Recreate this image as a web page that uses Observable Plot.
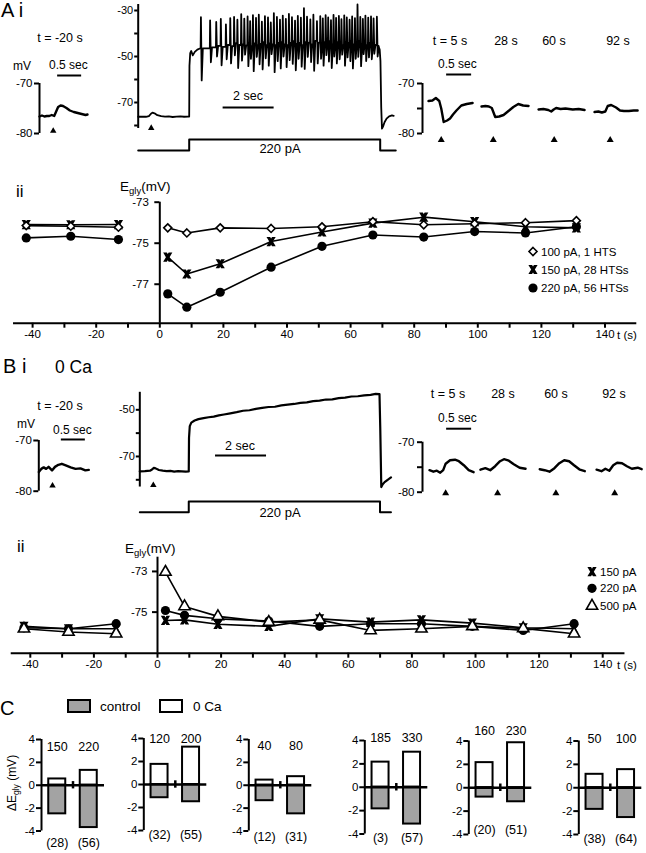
<!DOCTYPE html>
<html><head><meta charset="utf-8">
<script src="https://cdn.jsdelivr.net/npm/d3@7"></script>
<script src="https://cdn.jsdelivr.net/npm/@observablehq/plot@0.6"></script>
<style>
body{margin:0;background:#fff}
#fig{position:relative;width:646px;height:853px;overflow:hidden;background:#fff}
#fig svg{position:absolute;left:0;top:0}
</style></head><body><div id="fig"></div>
<script>
// ---------------- DATA ----------------
// A i : left inset (t = -20 s), time in s, voltage in mV
const aLT = [0, 0.05, 0.1, 0.15, 0.2, 0.25, 0.3, 0.34, 0.38, 0.43, 0.48, 0.55, 0.62, 0.7, 0.78, 0.86, 0.94, 0.98];
const aLV = [-76.6, -76.4, -76.6, -76.5, -76.5, -76.3, -76.5, -75.6, -74.7, -74.4, -74.5, -74.9, -75.4, -75.7, -75.9, -76.1, -76.3, -76.2];
const aLStim = [0.28];
// A i : middle trace (220 pA step)
const aMPreT = [0, 0.15, 0.3, 0.42, 0.5, 0.56, 0.64, 0.75, 0.9, 1.05, 1.2, 1.35, 1.5, 1.65, 1.8, 1.95, 2.0, 2.01, 2.04, 2.08, 2.14, 2.22, 2.32, 2.42];
const aMPreV = [-76.2, -76.1, -76.2, -75.9, -74.9, -74.4, -74.7, -75.5, -75.9, -76.1, -76.0, -76.3, -76.1, -76.0, -76.2, -76.1, -76.1, -54, -48.5, -47.6, -49.5, -48, -47, -46.5];
const aSpT = [2.46, 2.82, 3.06, 3.24, 3.44, 3.61, 3.76, 3.89, 4.04, 4.16, 4.29, 4.39, 4.50, 4.62, 4.73, 4.85, 4.97, 5.09, 5.20, 5.32, 5.44, 5.56, 5.67, 5.79, 5.91, 6.03, 6.15, 6.26, 6.38, 6.50, 6.62, 6.75, 6.87, 7.01, 7.14, 7.24, 7.35, 7.45, 7.56, 7.66, 7.76, 7.87, 7.97, 8.08, 8.18, 8.29, 8.39, 8.50, 8.60, 8.71, 8.81, 8.91, 9.02, 9.13, 9.23, 9.36];
const aSpPk = [-32.9, -34.3, -35.0, -33.6, -36.0, -33.3, -32.8, -34.0, -31.6, -33.5, -32.6, -34.6, -32.0, -33.2, -31.8, -34.8, -32.5, -33.0, -35.2, -31.2, -32.8, -34.0, -32.2, -33.6, -31.5, -32.9, -34.4, -32.3, -33.1, -29.0, -32.7, -33.9, -31.8, -34.6, -32.5, -33.4, -32.0, -33.0, -34.2, -31.9, -33.2, -32.4, -33.8, -32.1, -33.0, -34.0, -32.6, -33.3, -27.4, -32.8, -33.6, -32.2, -33.1, -32.6, -33.4, -32.7];
const aSpTr = [-60.4, -52.5, -50.0, -53.8, -51.2, -53.0, -49.5, -55.0, -51.8, -49.2, -54.2, -51.0, -56.4, -50.2, -53.4, -55.6, -50.8, -54.0, -49.0, -56.8, -52.0, -55.2, -50.0, -54.6, -51.6, -53.2, -56.0, -51.0, -54.4, -55.4, -50.2, -52.4, -56.2, -53.0, -51.0, -54.0, -49.4, -52.2, -55.0, -50.0, -53.0, -51.2, -49.2, -54.0, -50.4, -52.0, -55.2, -51.0, -50.2, -54.2, -49.0, -52.0, -50.4, -51.2, -48.8, -50.0];
const aSpRec = [-46.5, -46.0, -45.4, -45.8, -45.0, -45.5, -44.2, -45.0, -44.6, -45.2, -44.0, -45.4, -44.2, -45.0, -44.4, -43.6, -45.0, -44.2, -44.6, -45.0, -44.0, -43.6, -44.6, -45.0, -44.0, -43.2, -44.4, -44.0, -45.0, -43.6, -44.0, -44.6, -43.2, -44.0, -45.0, -43.6, -44.0, -43.2, -44.6, -44.0, -43.6, -44.0, -45.0, -43.6, -44.0, -43.2, -44.6, -44.0, -43.2, -44.6, -44.0, -45.0, -44.0, -44.6, -45.0, -45.6];
const aMPostT = [9.42, 9.47, 9.50, 9.53, 9.56, 9.6, 9.66, 9.74, 9.84, 9.95, 10.02];
const aMPostV = [-45.4, -47, -52, -72, -81.4, -80.5, -78.6, -77.0, -76.0, -75.6, -75.8];
const aMStim = [0.51];
const aStepT = [0, 2.0, 2.0, 9.49, 9.49, 10.1];
const aStepI = [0, 0, 220, 220, 0, 0];
// A i : right insets (t = 5, 28, 60, 92 s)
const aR1T = [0, 0.08, 0.15, 0.22, 0.26, 0.31, 0.38, 0.44, 0.5, 0.57, 0.67, 0.78, 0.9];
const aR1V = [-73.5, -73.4, -72.9, -73.5, -75.0, -77.7, -77.4, -77.0, -76.2, -75.4, -74.4, -74.1, -73.9];
const aR2T = [0, 0.08, 0.15, 0.21, 0.28, 0.36, 0.45, 0.55, 0.65, 0.75, 0.85, 0.96];
const aR2V = [-74.6, -74.5, -74.6, -74.9, -76.7, -76.6, -76.3, -75.5, -74.7, -74.1, -74.4, -74.5];
const aR3T = [0, 0.1, 0.2, 0.26, 0.31, 0.36, 0.45, 0.55, 0.7, 0.82, 0.94];
const aR3V = [-75.2, -75.1, -75.3, -75.6, -75.2, -74.9, -75.1, -75.0, -75.2, -75.1, -75.3];
const aR4T = [0, 0.08, 0.15, 0.22, 0.27, 0.34, 0.44, 0.52, 0.6, 0.7, 0.8, 0.88];
const aR4V = [-75.7, -75.6, -75.8, -75.6, -74.5, -74.3, -74.8, -75.4, -75.5, -75.5, -75.4, -75.4];
const aRStim = [0.26, 0.24, 0.32, 0.32];
const insetLabels = ["t = 5 s", "28 s", "60 s", "92 s"];

// A ii
const tPre = [-42, -28, -13];
const tPost = [2.5, 8.5, 19, 35, 51, 67, 83, 99, 115, 131];
const a100Pre = [-74.14, -74.17, -74.22];
const a100Post = [-74.25, -74.5, -74.25, -74.28, -74.2, -73.95, -74.1, -74.05, -74.0, -73.9];
const a150Pre = [-74.09, -74.1, -74.09];
const a150Post = [-75.68, -76.5, -76.0, -74.92, -74.45, -74.02, -73.73, -73.95, -74.2, -74.25];
const a220Pre = [-74.74, -74.66, -74.82];
const a220Post = [-77.47, -78.12, -77.39, -76.17, -75.15, -74.6, -74.7, -74.43, -74.5, -74.2];
const aiiLegend = ["100 pA, 1 HTS", "150 pA, 28 HTSs", "220 pA, 56 HTSs"];
const xTicks = [-40, -30, -20, -10, 0, 10, 20, 30, 40, 50, 60, 70, 80, 90, 100, 110, 120, 130, 140];
const aiiYTicks = [-73, -75, -77];

// B i
const bLT = [0, 0.05, 0.1, 0.15, 0.2, 0.27, 0.33, 0.4, 0.47, 0.55, 0.65, 0.75, 0.85, 0.95, 1.02];
const bLV = [-76.2, -75.6, -75.3, -75.6, -75.2, -75.9, -75.2, -74.8, -74.6, -74.9, -75.3, -75.6, -75.5, -75.9, -75.8];
const bLStim = [0.28];
const bMidT = [0, 0.2, 0.4, 0.48, 0.55, 0.62, 0.75, 0.9, 1.05, 1.2, 1.35, 1.5, 1.65, 1.8, 1.92, 1.93, 1.96, 2.02, 2.15, 2.3, 2.5, 2.7, 2.9, 3.1, 3.3, 3.55, 3.8, 4.05, 4.3, 4.55, 4.8, 5.05, 5.3, 5.55, 5.8, 6.05, 6.3, 6.55, 6.8, 7.05, 7.3, 7.55, 7.8, 8.05, 8.3, 8.55, 8.8, 9.05, 9.25, 9.4, 9.43, 9.47, 9.52, 9.6, 9.72, 9.85];
const bMidV = [-76.4, -76.3, -76.1, -75.6, -74.9, -75.1, -75.8, -76.1, -76.3, -76.2, -76.5, -76.3, -76.4, -76.5, -76.4, -62, -57, -55.5, -54.6, -54.0, -53.6, -53.2, -52.9, -52.4, -52.0, -51.5, -51.0, -50.4, -50.2, -49.6, -49.2, -48.8, -48.7, -48.1, -47.8, -47.5, -47.0, -46.8, -46.3, -46.1, -45.6, -45.5, -45.0, -44.8, -44.3, -44.2, -43.8, -43.6, -43.2, -43.3, -58, -83.1, -82.0, -81.0, -80.0, -79.0];
const bMStim = [0.53];
const bStepT = [0, 1.92, 1.92, 9.42, 9.42, 9.85];
const bStepI = [0, 0, 220, 220, 0, 0];
const bR1T = [0, 0.08, 0.15, 0.22, 0.28, 0.33, 0.42, 0.52, 0.6, 0.7, 0.8, 0.9];
const bR1V = [-75.6, -75.9, -75.7, -76.1, -75.6, -74.3, -73.6, -73.5, -73.8, -74.6, -75.6, -76.0];
const bR2T = [0, 0.1, 0.2, 0.3, 0.4, 0.48, 0.58, 0.68, 0.8, 0.92];
const bR2V = [-75.5, -75.2, -75.6, -74.8, -73.8, -73.4, -73.7, -74.4, -75.1, -75.3];
const bR3T = [0, 0.1, 0.2, 0.3, 0.4, 0.5, 0.6, 0.7, 0.82, 0.92];
const bR3V = [-75.4, -75.6, -75.9, -75.2, -74.2, -73.6, -73.8, -74.6, -75.5, -75.8];
const bR4T = [0, 0.1, 0.18, 0.26, 0.34, 0.42, 0.52, 0.62, 0.72, 0.84, 0.92];
const bR4V = [-75.5, -75.8, -75.3, -75.7, -74.6, -74.1, -74.2, -74.8, -75.3, -75.1, -75.4];
const bRStim = [0.33, 0.35, 0.33, 0.37];

// B ii
const b150Pre = [-75.7, -75.82, -75.82];
const b150Post = [-75.41, -75.38, -75.6, -75.7, -75.33, -75.49, -75.38, -75.54, -75.77, -75.82];
const b220Pre = [-75.77, -75.82, -75.57];
const b220Post = [-74.92, -75.16, -75.33, -75.44, -75.7, -75.57, -75.57, -75.7, -75.9, -75.57];
const b500Pre = [-75.82, -75.98, -76.06];
const b500Post = [-73.03, -74.72, -75.21, -75.49, -75.38, -75.9, -75.82, -75.7, -75.8, -76.06];
const biiLegend = ["150 pA", "220 pA", "500 pA"];
const biiYTicks = [-73, -75];

// C
const cAmpLow = [150, 120, 40, 185, 160, 50];
const cAmpHigh = [220, 200, 80, 330, 230, 100];
const cCountLow = [28, 32, 12, 3, 20, 38];
const cCountHigh = [56, 55, 31, 57, 51, 64];
const cCtrlLow = [-2.5, -1.15, -1.35, -1.85, -0.8, -1.85];
const cCtrlHigh = [-3.7, -1.5, -2.5, -3.15, -1.2, -2.55];
const cZeroLow = [0.55, 1.75, 0.45, 2.15, 2.15, 1.15];
const cZeroHigh = [1.3, 3.25, 0.75, 3.0, 3.85, 1.55];
const cTicks = [-4, -2, 0, 2, 4];

// ---------------- RENDER ----------------
const W = 646, H = 853;
const FONT = '"Liberation Sans", Arial, Helvetica, sans-serif';
const GRAY = "#a3a3a3";
const fig = document.getElementById("fig");

function layer(o) {
  const svg = Plot.plot({
    width: W, height: H,
    marginLeft: o.x0, marginRight: W - o.x1, marginTop: o.yt, marginBottom: H - o.yb,
    x: {domain: o.xd, axis: null, label: null},
    y: {domain: o.yd, axis: null, label: null},
    style: {background: "transparent", fontFamily: FONT, fontSize: "11.5px", overflow: "visible", color: "black"},
    marks: o.marks
  });
  svg.style.position = "absolute"; svg.style.left = "0px"; svg.style.top = "0px";
  fig.appendChild(svg);
}
const pts = (T, V, off = 0) => T.map((t, i) => ({t: t + off, v: V[i]}));
const fmtOnly = list => d => list.includes(d) ? String(d) : "";
const traceOpts = w => ({x: "t", y: "v", stroke: "black", strokeWidth: w, strokeLinejoin: "round", strokeLinecap: "round"});
const yAxis = (ticks, size, pad, fmt, fs = 11.5) => Plot.axisY({ticks, tickSize: size, tickPadding: pad, strokeWidth: 2, fontSize: fs, tickFormat: fmt, label: null});

// custom "star" symbol: bold filled X with flat (horizontal) ends
const XSTAR = {draw(ctx, size) {
  const r = Math.sqrt(size / Math.PI), w = 0.8 * r;
  const k = (2 * r - w) / (2 * r), c = r - (r - w) / k, d = w / 2;
  ctx.moveTo(-r, -r); ctx.lineTo(-r + w, -r); ctx.lineTo(0, -c); ctx.lineTo(r - w, -r); ctx.lineTo(r, -r);
  ctx.lineTo(d, 0); ctx.lineTo(r, r); ctx.lineTo(r - w, r); ctx.lineTo(0, c); ctx.lineTo(-r + w, r);
  ctx.lineTo(-r, r); ctx.lineTo(-d, 0); ctx.closePath();
}};

// ---- A i left inset
layer({x0: 39, x1: 88, xd: [0, 1], yb: 133, yt: 83, yd: [-80, -70], marks: [
  Plot.ruleX([0], {y1: -80, y2: -70, strokeWidth: 2}),
  yAxis([-80, -70], 5, 2, d => String(d)),
  Plot.line(pts(aLT, aLV), traceOpts(2.4)),
  Plot.dot(aLStim, {x: d => d, y: -79.5, symbol: "triangle", r: 2.4, fill: "black"}),
  Plot.ruleY([-68.4], {x1: 0.37, x2: 0.86, strokeWidth: 2})
]});

// ---- A i middle trace
const aMid = pts(aMPreT, aMPreV);
aSpT.forEach((t, i) => {
  const prev = i === 0 ? aMPreV[aMPreV.length - 1] : aSpRec[i - 1];
  aMid.push({t: t - 0.012, v: prev}, {t, v: aSpPk[i]}, {t: t + 0.03, v: aSpTr[i]}, {t: t + 0.075, v: aSpRec[i]});
});
aMid.push(...pts(aMPostT, aMPostV));
layer({x0: 137.7, x1: 137.7 + 10.3 * 25.5, xd: [0, 10.3], yb: 125, yt: 10, yd: [-80, -30], marks: [
  Plot.ruleX([0], {y1: -81.3, y2: -27.4, strokeWidth: 2}),
  yAxis([-80, -70, -60, -50, -40, -30], 3.5, 1.5, fmtOnly([-30, -50, -70]), 11),
  Plot.line(aMid, traceOpts(1.8)),
  Plot.dot(aMStim, {x: d => d, y: -81.1, symbol: "triangle", r: 2.4, fill: "black"}),
  Plot.ruleY([-72.2], {x1: 3.33, x2: 5.33, strokeWidth: 2})
]});
layer({x0: 137.7, x1: 137.7 + 10.3 * 25.5, xd: [0, 10.3], yb: 150, yt: 139, yd: [0, 220], marks: [
  Plot.line(pts(aStepT, aStepI), traceOpts(2))
]});

// ---- right insets helper
function rightInset(segs, offs, stim, yb, yt, arrowV, barV) {
  const marks = [
    Plot.ruleX([-0.1224], {y1: -80, y2: -70, strokeWidth: 2}),
    yAxis([-80, -75, -70], 5, 3, fmtOnly([-70, -80])),
    Plot.ruleY([barV], {x1: 0.37, x2: 0.88, strokeWidth: 2}),
    Plot.dot(stim.map((s, k) => s + offs[k]), {x: d => d, y: arrowV, symbol: "triangle", r: 2.6, fill: "black"})
  ];
  segs.forEach(([T, V], k) => marks.push(Plot.line(pts(T, V, offs[k]), traceOpts(2.4))));
  layer({x0: 422, x1: 646, xd: [-0.1224, 4.449], yb, yt, yd: [-80, -70], marks});
}
rightInset([[aR1T, aR1V], [aR2T, aR2V], [aR3T, aR3V], [aR4T, aR4V]], [0, 1.082, 2.245, 3.388], aRStim, 133, 83, -81.3, -68.2);

// ---- A ii / B ii helper
function egPlot(o) {
  const rows = [];
  o.series.forEach(s => {
    tPre.forEach((t, i) => rows.push({t, v: s.pre[i], g: s.name + "pre", name: s.name}));
    tPost.forEach((t, i) => rows.push({t, v: s.post[i], g: s.name + "post", name: s.name}));
  });
  const marks = [
    Plot.ruleY([o.yd[0]], {strokeWidth: 2}),
    Plot.axisX({ticks: xTicks, tickFormat: d => d % 20 === 0 ? String(d) : "", tickSize: 5, tickPadding: 2, strokeWidth: 2, fontSize: 11.5, label: null}),
    Plot.line(rows, {x: "t", y: "v", z: "g", stroke: "black", strokeWidth: 1.6})
  ];
  o.series.forEach(s => marks.push(Plot.dot(rows.filter(r => r.name === s.name), {x: "t", y: "v", ...s.dot})));
  layer({x0: o.zero + o.xd[0] * 3.18, x1: o.zero + o.xd[1] * 3.18, xd: o.xd, yb: o.yb, yt: o.yt, yd: o.yd, marks});
  layer({x0: o.zero, x1: o.zero + 1, xd: [0, 1], yb: o.yb, yt: o.yt, yd: o.yd, marks: [
    Plot.ruleX([0], {y1: o.yd[0], y2: o.axisTop, strokeWidth: 2}),
    yAxis(o.yTicks, 5, o.pad, d => String(d))
  ]});
}
const DIAMOND = {symbol: "diamond2", r: 3.6, fill: "white", stroke: "black", strokeWidth: 1.6};
const STAR = {symbol: XSTAR, r: 4.6, fill: "black", stroke: "none"};
const CIRCLE = {symbol: "circle", r: 4.6, fill: "black"};
const TRI = {symbol: "triangle", r: 4.2, fill: "white", stroke: "black", strokeWidth: 1.6};
egPlot({zero: 159.3, xd: [-46, 150], yb: 322.7, yt: 201.7, yd: [-78.9, -73], axisTop: -73, yTicks: aiiYTicks, pad: 6,
  series: [
    {name: "c", pre: a220Pre, post: a220Post, dot: CIRCLE},
    {name: "s", pre: a150Pre, post: a150Post, dot: STAR},
    {name: "d", pre: a100Pre, post: a100Post, dot: DIAMOND}
  ]});

// ---- B i
layer({x0: 38.3, x1: 90, xd: [0, 1.055], yb: 490.7, yt: 440, yd: [-80, -70], marks: [
  Plot.ruleX([0], {y1: -80, y2: -70, strokeWidth: 2}),
  yAxis([-80, -70], 5, 2, d => String(d)),
  Plot.line(pts(bLT, bLV), traceOpts(2.4)),
  Plot.dot(bLStim, {x: d => d, y: -78.9, symbol: "triangle", r: 2.4, fill: "black"}),
  Plot.ruleY([-69.8], {x1: 0.46, x2: 0.95, strokeWidth: 2})
]});
layer({x0: 139.3, x1: 139.3 + 10.3 * 25.5, xd: [0, 10.3], yb: 479.3, yt: 409.3, yd: [-80, -50], marks: [
  Plot.ruleX([0], {y1: -83.1, y2: -42.5, strokeWidth: 2}),
  yAxis([-80, -70, -60, -50], 3.5, 1.5, fmtOnly([-50, -70]), 11),
  Plot.line(pts(bMidT, bMidV), traceOpts(2.2)),
  Plot.dot(bMStim, {x: d => d, y: -82.3, symbol: "triangle", r: 2.4, fill: "black"}),
  Plot.ruleY([-69.6], {x1: 2.97, x2: 4.97, strokeWidth: 2})
]});
layer({x0: 139.3, x1: 139.3 + 10.3 * 25.5, xd: [0, 10.3], yb: 511.7, yt: 501, yd: [0, 220], marks: [
  Plot.line(pts(bStepT, bStepI), traceOpts(2))
]});
rightInset([[bR1T, bR1V], [bR2T, bR2V], [bR3T, bR3V], [bR4T, bR4V]], [0.02, 1.06, 2.27, 3.43], bRStim, 491.7, 441.7, -80.2, -67.3);

// ---- B ii
egPlot({zero: 157, xd: [-46, 147], yb: 652.7, yt: 556.7, yd: [-77.02, -72.3], axisTop: -72.3, yTicks: biiYTicks, pad: 5,
  series: [
    {name: "s", pre: b150Pre, post: b150Post, dot: STAR},
    {name: "c", pre: b220Pre, post: b220Post, dot: CIRCLE},
    {name: "t", pre: b500Pre, post: b500Post, dot: TRI}
  ]});

// ---- C
const cAxisX = [41, 143.3, 248.3, 364.3, 468.3, 578.3];
const cY4 = [739, 738, 739, 740, 740.5, 740.5];
const cYm4 = [830.5, 830, 830.5, 833.5, 834, 834];
const cTopBase = [750, 742.5, 749, 741.5, 734, 742.5];
const cBotBase = [846, 838, 840, 841.5, 833, 842];
cAxisX.forEach((x0, k) => {
  const zero = [{i: 0, v: cZeroLow[k]}, {i: 1, v: cZeroHigh[k]}];
  const ctrl = [{i: 0, v: cCtrlLow[k]}, {i: 1, v: cCtrlHigh[k]}];
  const tops = [{x: 0.5, s: String(cAmpLow[k])}, {x: 1.5, s: String(cAmpHigh[k])}];
  const bots = [{x: 0.5, s: `(${cCountLow[k]})`}, {x: 1.5, s: `(${cCountHigh[k]})`}];
  const bar = {x1: "i", x2: d => d.i + 1, y1: 0, y2: "v", stroke: "black", strokeWidth: 2, insetLeft: 7.25, insetRight: 7.25};
  layer({x0, x1: x0 + 63, xd: [0, 2], yb: cYm4[k], yt: cY4[k], yd: [-4, 4], marks: [
    Plot.rect(zero, {...bar, fill: "white"}),
    Plot.rect(ctrl, {...bar, fill: GRAY}),
    Plot.ruleY([0], {strokeWidth: 2.5}),
    Plot.ruleX([1], {y1: -0.32, y2: 0.32, strokeWidth: 2.5}),
    Plot.ruleX([0], {y1: -4, y2: 4, strokeWidth: 2}),
    yAxis(cTicks, 5, 1.5, d => String(d)),
    Plot.text(tops, {x: "x", text: "s", frameAnchor: "top", dy: cTopBase[k] - cY4[k], lineAnchor: "bottom", fontSize: 12.5}),
    Plot.text(bots, {x: "x", text: "s", frameAnchor: "top", dy: cBotBase[k] - cY4[k], lineAnchor: "bottom", fontSize: 12.5})
  ]});
});

// ---------------- TEXT OVERLAY ----------------
const ov = d3.select(fig).append("svg").attr("width", W).attr("height", H).style("font-family", FONT);
const T = (x, y, s, size, anchor = "start") => ov.append("text").attr("x", x).attr("y", y).attr("font-size", size).attr("text-anchor", anchor).attr("fill", "black").text(s);
function egly(x, y) {
  const t = ov.append("text").attr("x", x).attr("y", y).attr("font-size", 13.5).attr("fill", "black");
  t.append("tspan").text("E");
  t.append("tspan").attr("font-size", 9.5).attr("dy", 3).text("gly");
  t.append("tspan").attr("dy", -3).text("(mV)");
}
function legend(x, ys, symbols, labels) {
  symbols.forEach((s, i) => {
    const p = ov.append("path").attr("transform", `translate(${x},${ys[i]})`)
      .attr("d", d3.symbol().type(s.type).size(Math.PI * s.r * s.r)());
    p.attr("fill", s.fill).attr("stroke", s.stroke || "none").attr("stroke-width", s.sw || 0);
    T(x + 8, ys[i] + 4, labels[i], 11.5);
  });
}
// A
T(1, 17, "A i", 20);
T(60, 42, "t = -20 s", 12.5, "middle");
T(13, 70, "mV", 12);
T(49, 69, "0.5 sec", 12);
T(233, 100, "2 sec", 12.5);
T(280, 153, "220 pA", 13, "middle");
T(438, 68, "0.5 sec", 12);
[450, 506, 554, 618].forEach((x, i) => T(x, 45, insetLabels[i], 12.5, "middle"));
T(16, 197, "ii", 17);
egly(120, 191);
T(617, 339, "t (s)", 11.5);
const symD = {type: d3.symbolDiamond2, r: 3.6, fill: "white", stroke: "black", sw: 1.6};
const symS = {type: XSTAR, r: 4.6, fill: "black"};
const symC = {type: d3.symbolCircle, r: 4.6, fill: "black"};
const symT = {type: d3.symbolTriangle, r: 4.2, fill: "white", stroke: "black", sw: 1.6};
legend(533, [251.5, 269.5, 288], [symD, symS, symC], aiiLegend);
// B
T(3, 373, "B i", 20);
T(55, 373, "0 Ca", 17.5);
T(60, 410, "t = -20 s", 12.5, "middle");
T(17, 428, "mV", 12);
T(53, 434, "0.5 sec", 12);
T(225, 450, "2 sec", 12.5);
T(280, 517, "220 pA", 13, "middle");
T(438, 422, "0.5 sec", 12);
[448, 503, 556, 614].forEach((x, i) => T(x, 398, insetLabels[i], 12.5, "middle"));
T(17, 552, "ii", 17);
egly(125, 553);
T(617, 669, "t (s)", 11.5);
legend(592, [571.7, 588.3, 606], [symS, symC, symT], biiLegend);
// C
T(0, 715, "C", 20);
ov.append("rect").attr("x", 68).attr("y", 700).attr("width", 22).attr("height", 12).attr("fill", GRAY).attr("stroke", "black").attr("stroke-width", 2);
T(100, 711, "control", 13.5);
ov.append("rect").attr("x", 160).attr("y", 700).attr("width", 22).attr("height", 12).attr("fill", "white").attr("stroke", "black").attr("stroke-width", 2);
T(193, 711, "0 Ca", 13.5);
const yl = ov.append("text").attr("transform", "translate(16,783) rotate(-90)").attr("text-anchor", "middle").attr("font-size", 12).attr("fill", "black");
yl.append("tspan").text("ΔE");
yl.append("tspan").attr("font-size", 8.5).attr("dy", 3).text("gly");
yl.append("tspan").attr("dy", -3).text(" (mV)");
</script></body></html>
